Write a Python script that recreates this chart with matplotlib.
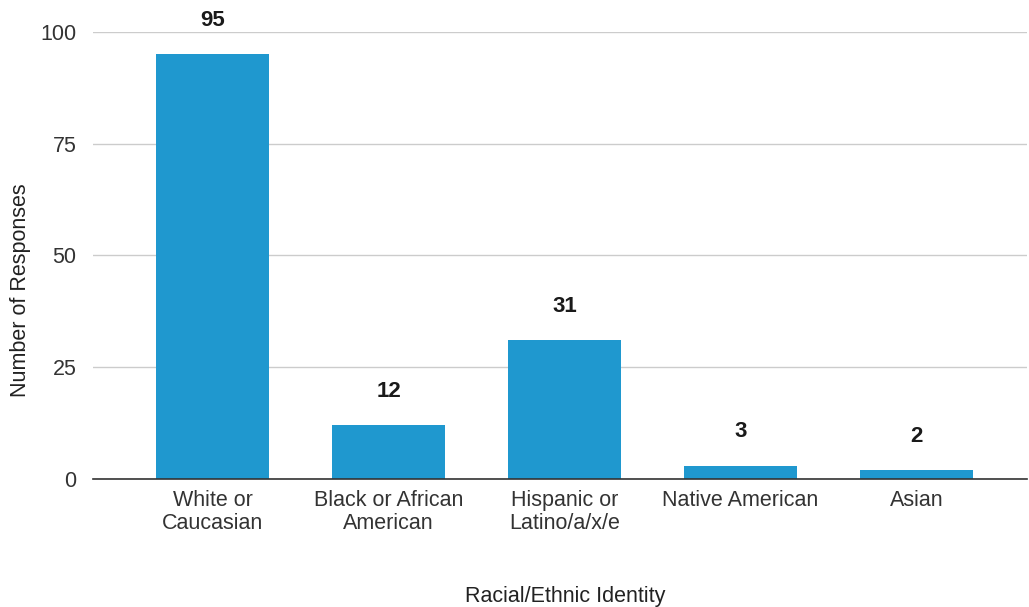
import matplotlib.pyplot as plt
import numpy as np

categories = ['White or\nCaucasian', 'Black or African\nAmerican', 'Hispanic or\nLatino/a/x/e',
              'Native American', 'Asian']
responses = [95, 12, 31, 3, 2]
yticks = [0, 25, 50, 75, 100]

plt.rcParams['font.family'] = ['Liberation Sans', 'DejaVu Sans']

fig = plt.figure(figsize=(10.29, 6.07), dpi=100)
ax = fig.add_axes([0.0904, 0.2109, 0.908, 0.7364])

x = np.arange(len(categories))
bars = ax.bar(x, responses, width=0.64, color='#1f98cf', zorder=3)

for xi, v in zip(x, responses):
    ax.annotate(str(v), (xi, v), xytext=(0, 24.5), textcoords='offset points',
                ha='center', va='center', fontsize=16, fontweight='bold', color='#1a1a1a')

ax.set_xlim(-0.68, len(categories) - 1 + 0.63)
ax.set_ylim(0, 100)
ax.set_yticks(yticks)
ax.set_xticks(x)
ax.set_xticklabels(categories, fontsize=15.5, color='#333333', linespacing=1.12)
ax.tick_params(axis='y', labelsize=15.5, colors='#333333', length=0, pad=12)
ax.tick_params(axis='x', length=0, pad=8)
ax.grid(axis='y', color='#cccccc', linewidth=1, zorder=0)
for s in ['top', 'right', 'left']:
    ax.spines[s].set_visible(False)
ax.spines['bottom'].set_color('#333333')
ax.spines['bottom'].set_linewidth(1.2)
ax.spines['bottom'].set_zorder(4)

fig.text(0.02, 0.522, 'Number of Responses', rotation=90, ha='center', va='center',
         fontsize=15.5, color='#222222')
fig.text(0.549, 0.018, 'Racial/Ethnic Identity', ha='center', va='center',
         fontsize=15.5, color='#222222')

fig.savefig('out.png', dpi=100)
